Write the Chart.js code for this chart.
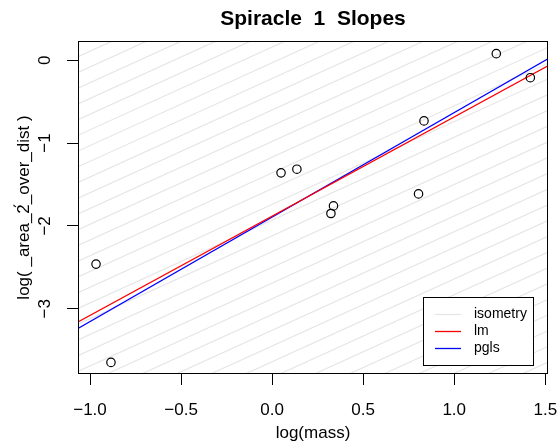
<!DOCTYPE html>
<html>
<head>
<meta charset="utf-8">
<script src="https://cdn.jsdelivr.net/npm/chart.js@4/dist/chart.umd.min.js"></script>
<style>
  html, body { margin: 0; padding: 0; background: #fff; }
</style>
</head>
<body>
<canvas id="slopes" width="560" height="444"></canvas>
<script>
// points: log(mass) vs log(area_2_over_dist)
const logMass = [1.231, 1.418, 0.834, 0.049, 0.136, 0.337, 0.323, 0.804, -0.967, -0.885];
const logArea = [0.080, -0.210, -0.732, -1.359, -1.315, -1.758, -1.850, -1.613, -2.461, -3.648];

// fitted lines: [intercept, slope]
const lmFit = [-1.882, 1.199];
const pglsFit = [-1.893, 1.262];

// isometry reference lines (slope 1), intercepts
const isoSlope = 1;
const isoIntercepts = [1.11, 0.92, 0.73, 0.54, 0.35, 0.16, -0.03, -0.22, -0.41, -0.60,
  -0.79, -0.98, -1.17, -1.36, -1.55, -1.74, -1.93, -2.12, -2.31, -2.50, -2.69, -2.88,
  -3.07, -3.26, -3.45, -3.64, -3.83, -4.02, -4.21, -4.40, -4.59, -4.78, -4.97, -5.16];

const xRange = [-1.066, 1.515];
const yRange = [-3.788, 0.233];
const xTicks = [-1.0, -0.5, 0.0, 0.5, 1.0, 1.5];
const xTickLabels = ['\u22121.0', '\u22120.5', '0.0', '0.5', '1.0', '1.5'];
const yTicks = [0, -1, -2, -3];
const yTickLabels = ['0', '\u22121', '\u22122', '\u22123'];

const FONT = '"Liberation Sans", Arial, sans-serif';
const isoColor = '#e6e6e6';

function fitLine(fit, color, label, order) {
  return {
    type: 'line', label: label, order: order,
    data: xRange.map(x => ({ x: x, y: fit[0] + fit[1] * x })),
    borderColor: color, borderWidth: 1.3, pointRadius: 0, fill: false
  };
}

const datasets = [];
datasets.push({
  type: 'scatter', label: 'points', order: 0,
  data: logMass.map((x, i) => ({ x: x, y: logArea[i] })),
  pointStyle: 'circle', pointRadius: 4.2, borderColor: '#000', borderWidth: 1.2,
  backgroundColor: 'rgba(0,0,0,0)'
});
datasets.push(fitLine(lmFit, '#ff0000', 'lm', 1));
datasets.push(fitLine(pglsFit, '#0000ff', 'pgls', 2));
isoIntercepts.forEach(a => {
  datasets.push({
    type: 'line', label: 'isometry', order: 5,
    data: xRange.map(x => ({ x: x, y: a + isoSlope * x })),
    borderColor: isoColor, borderWidth: 1.2, pointRadius: 0, fill: false
  });
});

// frame, title, axis titles, rotated y labels, legend (R style)
const rDecor = {
  id: 'rDecor',
  afterDraw(chart) {
    const ctx = chart.ctx, ca = chart.chartArea, ys = chart.scales.y;
    ctx.save();
    ctx.strokeStyle = '#000';
    ctx.lineWidth = 1;
    ctx.strokeRect(ca.left + 0.5, ca.top + 0.5, ca.right - ca.left - 1, ca.bottom - ca.top - 1);

    const cx = (ca.left + ca.right) / 2;
    ctx.fillStyle = '#000';
    ctx.textAlign = 'center';
    ctx.textBaseline = 'middle';
    ctx.font = 'bold 21px ' + FONT;
    ctx.fillText('Spiracle  1  Slopes', cx, 19);

    ctx.font = '17px ' + FONT;
    ctx.fillText('log(mass)', cx, 433);

    ctx.save();
    ctx.translate(24, (ca.top + ca.bottom) / 2);
    ctx.rotate(-Math.PI / 2);
    ctx.fillText('log( _area_2\u0301_over_dist )', 0, 0);
    ctx.restore();

    yTicks.forEach((v, i) => {
      const py = ys.getPixelForValue(v);
      ctx.save();
      ctx.translate(45, py);
      ctx.rotate(-Math.PI / 2);
      ctx.fillText(yTickLabels[i], 0, 0);
      ctx.restore();
    });

    // legend
    const lx = 423, ly = 297, lw = 110, lh = 68;
    ctx.fillStyle = '#fff';
    ctx.fillRect(lx, ly, lw, lh);
    ctx.strokeRect(lx + 0.5, ly + 0.5, lw, lh);
    const items = [['isometry', isoColor], ['lm', '#ff0000'], ['pgls', '#0000ff']];
    ctx.font = '14px ' + FONT;
    ctx.textAlign = 'left';
    items.forEach((it, i) => {
      const y = ly + 17.5 + i * 17;
      ctx.strokeStyle = it[1];
      ctx.lineWidth = 1.3;
      ctx.beginPath();
      ctx.moveTo(lx + 12, y);
      ctx.lineTo(lx + 38, y);
      ctx.stroke();
      ctx.fillStyle = '#000';
      ctx.fillText(it[0], lx + 51, y);
    });
    ctx.restore();
  }
};

new Chart(document.getElementById('slopes').getContext('2d'), {
  data: { datasets: datasets },
  options: {
    responsive: false,
    devicePixelRatio: 1,
    animation: false,
    layout: { padding: { left: 0, top: 41, right: 12, bottom: 0 } },
    plugins: { legend: { display: false }, tooltip: { enabled: false }, title: { display: false } },
    scales: {
      x: {
        type: 'linear', min: xRange[0], max: xRange[1],
        afterBuildTicks: s => { s.ticks = xTicks.map(v => ({ value: v })); },
        afterFit: s => { s.height = 70; s.paddingLeft = 0; s.paddingRight = 0; },
        grid: { drawOnChartArea: false, drawTicks: true, tickLength: 11, color: '#000', lineWidth: 1 },
        border: { display: false },
        ticks: {
          padding: 15, color: '#000', maxRotation: 0, autoSkip: false,
          font: { family: FONT, size: 17 },
          callback: (v, i) => xTickLabels[i]
        }
      },
      y: {
        type: 'linear', min: yRange[0], max: yRange[1],
        afterBuildTicks: s => { s.ticks = yTicks.map(v => ({ value: v })); },
        afterFit: s => { s.width = 78; s.paddingTop = 0; s.paddingBottom = 0; },
        grid: { drawOnChartArea: false, drawTicks: true, tickLength: 11, color: '#000', lineWidth: 1 },
        border: { display: false },
        ticks: { display: false }
      }
    }
  },
  plugins: [rDecor]
});
</script>
</body>
</html>
